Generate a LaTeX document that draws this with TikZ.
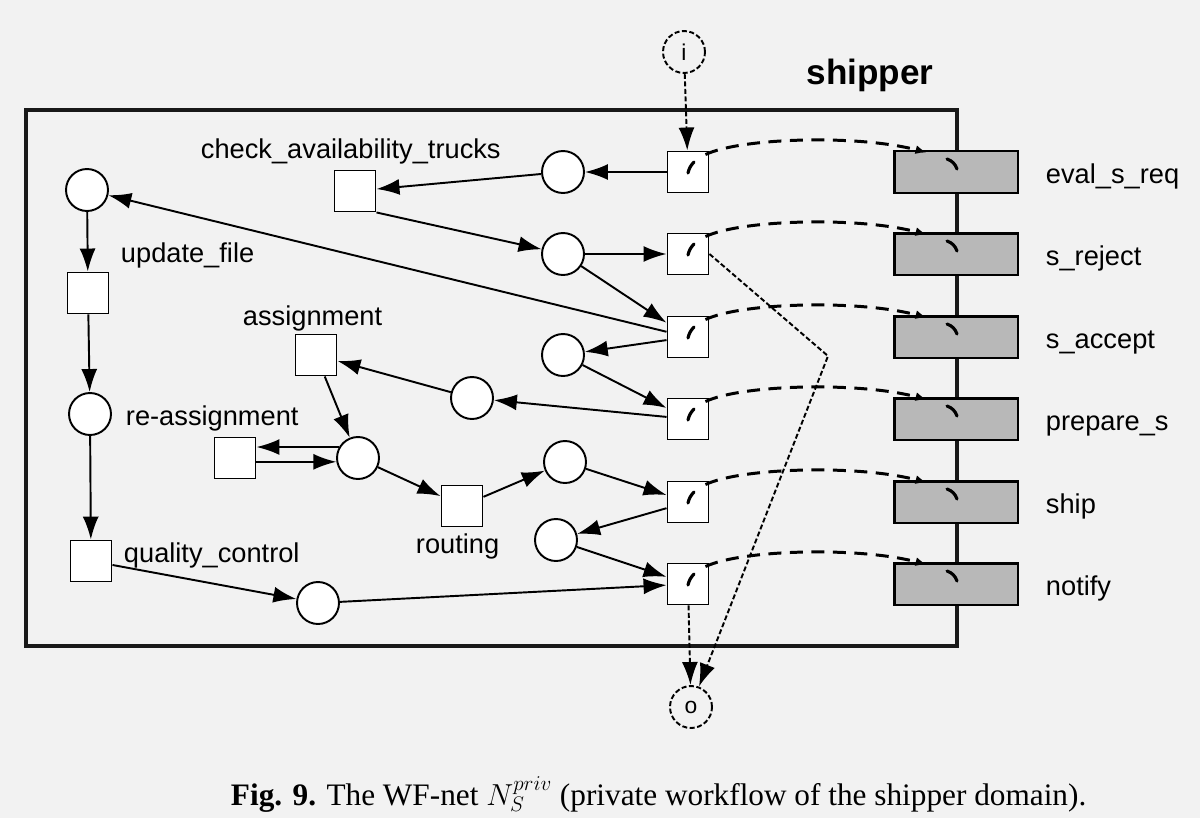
\documentclass[tikz,border=0pt]{standalone}
\usepackage{fontspec}
\setmainfont{Liberation Sans}
\newfontfamily\capfont{Liberation Serif}
\usetikzlibrary{arrows.meta,calc}

\begin{document}
\begin{tikzpicture}[x=0.02cm,y=-0.02cm,line width=1.1pt,
    arc/.style={-{Latex[length=0.46cm,width=0.32cm]}},
    place/.style={draw,circle,minimum size=0.84cm,inner sep=0pt,fill=white},
    trans/.style={draw,rectangle,minimum size=0.82cm,inner sep=0pt,fill=white},
    shared/.style={draw,rectangle,minimum width=2.48cm,minimum height=0.84cm,inner sep=0pt,fill=black!28,line width=1.7pt},
    lbl/.style={anchor=base west,inner sep=0pt,font=\fontsize{15.5}{18}\selectfont},
    io/.style={draw,circle,dash pattern=on 0.1cm off 0.05cm,minimum size=0.84cm,inner sep=0pt,font=\fontsize{13}{15}\selectfont},
    flow/.style={arc,dash pattern=on 0.1cm off 0.05cm},
    link/.style={-{Latex[length=0.22cm,width=0.18cm]},line width=1.7pt,dash pattern=on 0.26cm off 0.17cm},
    tick/.style={line width=1.8pt,line cap=round}]
                \fill[black!5] (0,0) rectangle (1200,818);
                \draw[line width=2.8pt,black!90] (26,110) rectangle (957,646);

                \node[io] (i) at (684,52) {i};
                \node[io] (o) at (691,707) {o};
                \node[font=\bfseries\fontsize{20}{24}\selectfont] (title) at (870,75) {shipper};

                % right column: private transitions and shared tasks
                \foreach \n/\y/\txt in {1/172/eval\_s\_req,2/254/s\_reject,3/337/s\_accept,4/419/prepare\_s,5/502/ship,6/584/notify} {
                    \node[trans] (t\n) at (688,\y) {};
                    \node[shared] (g\n) at (956,\y) {};
                    \node[lbl] (l\n) at (1045,\y+11) {\txt};
                }

                \node[place] (c1) at (563,172) {};
                \node[place] (c2) at (563,254) {};
                \node[place] (c3) at (563,355) {};
                \node[place] (c4) at (472,398) {};
                \node[place] (c5) at (565,462) {};
                \node[place] (c6) at (556,540) {};
                \node[place] (c7) at (358,458) {};
                \node[place] (c8) at (318,603) {};
                \node[place] (p1) at (87,190) {};
                \node[place] (p2) at (90,414) {};

                \node[trans] (chk) at (355,191) {};
                \node[trans] (upd) at (88,293) {};
                \node[trans] (asg) at (316,355) {};
                \node[trans] (reas) at (235,458) {};
                \node[trans] (rout) at (462,506) {};
                \node[trans] (qc) at (91,561) {};

                \node[lbl] (lchk) at (200,158) {check\_availability\_trucks};
                \node[lbl] (lupd) at (120,262) {update\_file};
                \node[lbl] (lasg) at (242,325) {assignment};
                \node[lbl] (lreas) at (125,425) {re-assignment};
                \node[lbl] (lqc) at (123,562) {quality\_control};
                \node[lbl] (lrout) at (415,553) {routing};

                \path[arc]
                    (t1) edge (c1)
                    (c1) edge (chk)
                    (chk.south east) edge (c2)
                    (c2) edge (t2)
                    (c2) edge (t3)
                    (t3) edge (p1)
                    (t3) edge (c3)
                    (c3) edge (t4)
                    (t4) edge (c4)
                    (c4) edge (asg)
                    (asg) edge (c7)
                    (c7.150) edge (c7.150 -| reas.east)
                    (reas.east |- c7.190) edge (c7.190)
                    (c7) edge (rout)
                    (rout) edge (c5)
                    (c5) edge (t5)
                    (t5) edge (c6)
                    (c6) edge (t6)
                    (c8) edge (t6)
                    (qc) edge (c8)
                    (p1) edge (upd)
                    (upd) edge (p2)
                    (p2) edge (qc)
                    ;

                \coordinate (bend) at (828,356);
                \draw[flow] (i) -- (t1);
                \draw[flow] (t6) -- (o);
                \draw[flow] (t2.east) -- (bend) -- (o);

                % links to the shared tasks
                \foreach \n in {1,...,6} {
                    \draw[link] ($(t\n.north east)+(-4,4)$) .. controls ($(t\n.north east)+(32,-13)$) and ($(g\n.north west)+(-34,-15)$) .. ($(g\n.north west)+(34,3)$);
                    \draw[tick] ($(g\n.center)+(-9,-13)$) to[bend left=25] ($(g\n.center)+(1,-3)$);
                    \draw[tick] ($(t\n.center)+(0,1)$) to[bend left=15] ($(t\n.center)+(6,-10)$);
                }

                \node[font=\capfont\fontsize{17.8}{21}\selectfont,anchor=base west,inner sep=0pt] (cap) at (230,805) {\textbf{Fig. 9.} The WF-net $N_S^{priv}$ (private workflow of the shipper domain).};
\end{tikzpicture}
\end{document}
